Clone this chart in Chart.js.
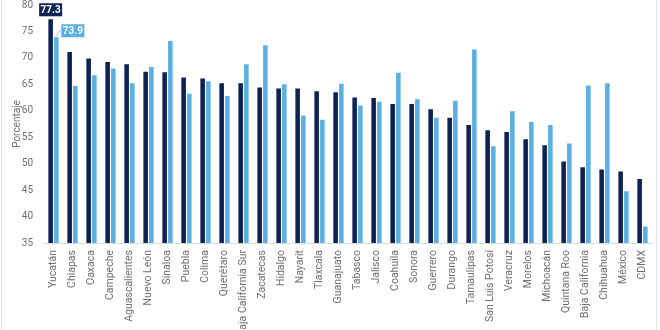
<!DOCTYPE html>
<html lang="es">
<head>
<meta charset="UTF-8">
<title>Porcentaje por entidad federativa</title>
<script src="https://cdn.jsdelivr.net/npm/chart.js"></script>
<style>
  html, body { margin: 0; padding: 0; background: #fff; }
  #wrap { width: 660px; height: 330px; position: relative; }
</style>
</head>
<body>
<div id="wrap"><canvas id="grafica" width="660" height="330"></canvas></div>
<script>
// Entidades, ordenadas de mayor a menor según la primera serie
var estados = ["Yucatán", "Chiapas", "Oaxaca", "Campeche", "Aguascalientes", "Nuevo León",
  "Sinaloa", "Puebla", "Colima", "Querétaro", "Baja California Sur", "Zacatecas", "Hidalgo",
  "Nayarit", "Tlaxcala", "Guanajuato", "Tabasco", "Jalisco", "Coahuila", "Sonora", "Guerrero",
  "Durango", "Tamaulipas", "San Luis Potosí", "Veracruz", "Morelos", "Michoacán",
  "Quintana Roo", "Baja California", "Chihuahua", "México", "CDMX"];

var serieOscura = [77.3, 71.1, 69.9, 69.2, 68.8, 67.4, 67.3, 66.3, 66.1, 65.2, 65.2, 64.4, 64.2,
  64.2, 63.7, 63.5, 62.5, 62.4, 61.3, 61.3, 60.3, 58.7, 57.3, 56.3, 56.0, 54.6, 53.5,
  50.4, 49.3, 48.9, 48.5, 47.1];

var serieClara = [73.9, 64.7, 66.7, 68.0, 65.2, 68.3, 73.2, 63.2, 65.6, 62.8, 68.8, 72.4, 65.0,
  59.1, 58.3, 65.1, 61.0, 61.7, 67.2, 62.2, 58.7, 61.9, 71.6, 53.3, 59.9, 57.9, 57.3,
  53.8, 64.8, 65.2, 44.8, 38.1];

var ticksY = [35, 40, 45, 50, 55, 60, 65, 70, 75, 80];

var colorOscuro = '#0f2254';
var colorClaro = '#5aafe3';
var colorTexto = '#707070';

// etiquetas con el valor de la primera barra de cada serie
var etiquetasValor = {
  id: 'etiquetasValor',
  afterDatasetsDraw: function (chart) {
    var ctx = chart.ctx;
    ctx.save();
    ctx.font = 'bold 10px Roboto';
    ctx.textAlign = 'center';
    ctx.textBaseline = 'middle';

    // serie oscura: caja centrada sobre la barra
    var b0 = chart.getDatasetMeta(0).data[0];
    var w = 23, h = 13;
    ctx.fillStyle = colorOscuro;
    ctx.fillRect(b0.x - w / 2, b0.y - h - 3, w, h);
    ctx.fillStyle = '#fff';
    ctx.fillText(serieOscura[0].toFixed(1), b0.x, b0.y - h / 2 - 3 + 0.5);

    // serie clara: caja a la derecha con línea guía
    var b1 = chart.getDatasetMeta(1).data[0];
    var bx = b1.x + 5, by = b1.y - 13;
    ctx.strokeStyle = '#9ccbea';
    ctx.lineWidth = 1;
    ctx.beginPath();
    ctx.moveTo(b1.x - 1, b1.y - 1);
    ctx.lineTo(bx, by + 5);
    ctx.stroke();
    ctx.fillStyle = colorClaro;
    ctx.fillRect(bx, by, w, h);
    ctx.fillStyle = '#fff';
    ctx.fillText(serieClara[0].toFixed(1), bx + w / 2, by + h / 2 + 0.5);
    ctx.restore();
  }
};

// marco gris a los lados
var marco = {
  id: 'marco',
  afterDraw: function (chart) {
    var ctx = chart.ctx;
    ctx.save();
    ctx.strokeStyle = '#e2e2e2';
    ctx.lineWidth = 1;
    ctx.beginPath();
    ctx.moveTo(1.5, 0); ctx.lineTo(1.5, 330);
    ctx.moveTo(656.5, 0); ctx.lineTo(656.5, 330);
    ctx.stroke();
    ctx.restore();
  }
};

new Chart(document.getElementById('grafica'), {
  type: 'bar',
  data: {
    labels: estados,
    datasets: [
      { label: 'Serie 1', data: serieOscura, backgroundColor: colorOscuro },
      { label: 'Serie 2', data: serieClara, backgroundColor: colorClaro }
    ]
  },
  options: {
    responsive: false,
    animation: false,
    layout: { padding: { left: 0, top: 5, right: 8, bottom: 0 } },
    datasets: { bar: { categoryPercentage: 0.6, barPercentage: 0.8 } },
    plugins: {
      legend: { display: false },
      tooltip: { enabled: false }
    },
    scales: {
      x: {
        grid: { display: false, drawTicks: false },
        border: { display: true, color: '#dcdcdc' },
        ticks: {
          color: colorTexto,
          font: { family: 'Roboto', size: 10.5 },
          minRotation: 90,
          maxRotation: 90,
          autoSkip: false,
          padding: 7
        },
        afterFit: function (s) {
          s.height = 87;
          s.paddingLeft = 0;
          s.paddingRight = 0;
        }
      },
      y: {
        min: 35,
        max: 80,
        grid: { display: false, drawTicks: false },
        border: { display: false },
        ticks: {
          color: colorTexto,
          font: { family: 'Roboto', size: 10 },
          padding: 11
        },
        afterBuildTicks: function (s) {
          s.ticks = ticksY.map(function (v) { return { value: v }; });
        },
        title: {
          display: true,
          text: 'Porcentaje',
          color: colorTexto,
          font: { family: 'Roboto', size: 10 },
          padding: { top: 11, bottom: 0 }
        },
        afterFit: function (s) {
          s.width = 44;
          s.paddingTop = 0;
          s.paddingBottom = 0;
        }
      }
    }
  },
  plugins: [etiquetasValor, marco]
});
</script>
</body>
</html>
